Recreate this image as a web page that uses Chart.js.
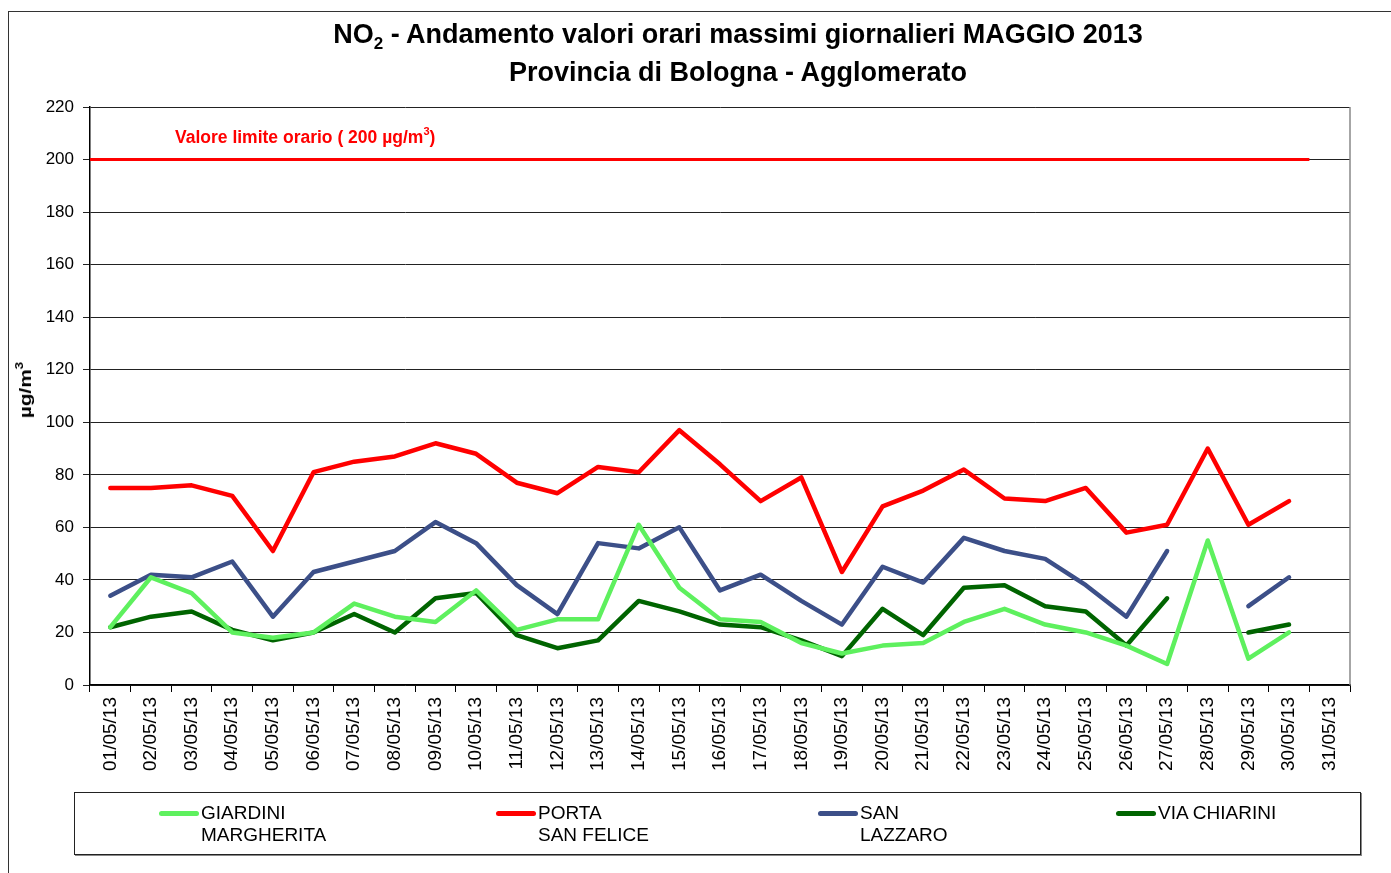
<!DOCTYPE html>
<html><head><meta charset="utf-8">
<script src="https://cdn.jsdelivr.net/npm/chart.js@4/dist/chart.umd.min.js"></script>
<style>
html,body{margin:0;padding:0;background:#fff;}
body{width:1391px;height:873px;position:relative;overflow:hidden;font-family:"Liberation Sans",Arial,sans-serif;color:#000;}
#frame{position:absolute;left:8px;top:11px;width:1420px;height:900px;border:1.5px solid #333;box-sizing:border-box;}
#c{position:absolute;left:0;top:0;}
.title{position:absolute;left:0;width:1476px;text-align:center;font-weight:bold;font-size:27px;line-height:30px;}
.title sub{font-size:17px;vertical-align:-6px;line-height:0;}
#annot{position:absolute;left:175px;top:127px;color:#f00;font-weight:bold;font-size:17.5px;white-space:nowrap;}
#annot sup{font-size:11px;vertical-align:8px;line-height:0;}
#ytitle sup{font-size:11px;vertical-align:8px;line-height:0;}
#ytitle{position:absolute;left:26px;top:390px;transform:translate(-50%,-50%) rotate(-90deg) scaleX(1.22);font-weight:bold;font-size:17px;white-space:nowrap;}
#legend{position:absolute;left:74px;top:792px;width:1287px;height:63px;border:1px solid #222;box-shadow:1px 1px 0 #888;box-sizing:border-box;}
.li{position:absolute;top:0;}
.sw{position:absolute;top:18px;width:40px;height:5px;border-radius:3px;}
.lt{position:absolute;top:9px;left:42px;font-size:19px;line-height:22px;white-space:nowrap;}
</style></head>
<body>
<div id="frame"></div>
<canvas id="c" width="1391" height="873"></canvas>
<div class="title" style="top:19px">NO<sub>2</sub> - Andamento valori orari massimi giornalieri MAGGIO 2013</div>
<div class="title" style="top:57px">Provincia di Bologna - Agglomerato</div>
<div id="annot">Valore limite orario ( 200 µg/m<sup>3</sup>)</div>
<div id="ytitle">µg/m<sup>3</sup></div>
<div id="legend"></div>
<script>
const categories = ["01/05/13","02/05/13","03/05/13","04/05/13","05/05/13","06/05/13","07/05/13","08/05/13","09/05/13","10/05/13","11/05/13","12/05/13","13/05/13","14/05/13","15/05/13","16/05/13","17/05/13","18/05/13","19/05/13","20/05/13","21/05/13","22/05/13","23/05/13","24/05/13","25/05/13","26/05/13","27/05/13","28/05/13","29/05/13","30/05/13","31/05/13"];
const giardiniMargherita = [22,41,35,20,18,20,31,26,24,36,21,25,25,61,37,25,24,16,12,15,16,24,29,23,20,15,8,55,10,20,null];
const portaSanFelice = [75,75,76,72,51,81,85,87,92,88,77,73,83,81,97,84,70,79,43,68,74,82,71,70,75,58,61,90,61,70,null];
const sanLazzaro = [34,42,41,47,26,43,47,51,62,54,38,27,54,52,60,36,42,32,23,45,39,56,51,48,38,26,51,null,30,41,null];
const viaChiarini = [22,26,28,21,17,20,27,20,33,35,19,14,17,32,28,23,22,17,11,29,19,37,38,30,28,15,33,null,20,23,null];
const seriesLabels = [["GIARDINI","MARGHERITA"],["PORTA","SAN FELICE"],["SAN","LAZZARO"],["VIA CHIARINI"]];
const seriesColors = ["#5ef05e","#ff0000","#3c4f88","#006400"];
const limitValue = 200;
const yTicks = [0,20,40,60,80,100,120,140,160,180,200,220];

const seriesData = [giardiniMargherita, portaSanFelice, sanLazzaro, viaChiarini];
const datasets = seriesData.map((d,i)=>({
  label: seriesLabels[i].join(" "),
  data: d,
  borderColor: seriesColors[i],
  backgroundColor: seriesColors[i],
  borderWidth: 4.5,
  pointRadius: 0,
  tension: 0,
  spanGaps: false,
  borderJoinStyle: 'round',
  borderCapStyle: 'round'
}));

const extras = {
  id: 'extras',
  beforeDatasetsDraw(chart){
    const {ctx, chartArea:a, scales:{x,y}} = chart;
    ctx.save();
    ctx.strokeStyle = '#888';
    ctx.lineWidth = 1.5;
    ctx.beginPath();
    ctx.moveTo(a.right, a.top); ctx.lineTo(a.right, a.bottom);
    ctx.stroke();
    const yl = y.getPixelForValue(limitValue);
    const xEnd = (x.getPixelForValue(categories.length-2) + x.getPixelForValue(categories.length-1)) / 2;
    ctx.strokeStyle = '#ff0000';
    ctx.lineWidth = 3;
    ctx.beginPath();
    ctx.moveTo(a.left, yl); ctx.lineTo(xEnd, yl);
    ctx.stroke();
    ctx.restore();
  }
};

const family = "'Liberation Sans', Arial, sans-serif";
new Chart(document.getElementById('c'), {
  type: 'line',
  data: {labels: categories, datasets},
  plugins: [extras],
  options: {
    responsive: false,
    animation: false,
    layout: {padding: {left:0, right:41, top:107, bottom:0}},
    plugins: {legend:{display:false}, title:{display:false}, tooltip:{enabled:false}},
    scales: {
      x: {
        type: 'category',
        offset: true,
        grid: {display:true, drawOnChartArea:false, drawTicks:true, tickLength:7, offset:true, color:'#000'},
        border: {display:true, color:'#000', width:1.5},
        ticks: {minRotation:90, maxRotation:90, autoSkip:false, padding:5, font:{family, size:19}, color:'#000'},
        afterFit(s){ s.height = 188; }
      },
      y: {
        min: 0, max: 220,
        afterBuildTicks(s){ s.ticks = yTicks.map(v=>({value:v})); },
        grid: {color:'#222', lineWidth:1, tickLength:7, drawTicks:true},
        border: {display:true, color:'#000', width:1.5},
        ticks: {padding:9, font:{family, size:17}, color:'#000'},
        afterFit(s){ s.width = 90; }
      }
    }
  }
});

const legendPos = [84, 421, 743, 1041];
const lg = document.getElementById('legend');
seriesLabels.forEach((lab,i)=>{
  const d = document.createElement('div');
  d.className = 'li';
  d.style.left = legendPos[i] + 'px';
  d.innerHTML = '<div class="sw" style="background:'+seriesColors[i]+'"></div><div class="lt">'+lab.join('<br>')+'</div>';
  lg.appendChild(d);
});
</script>
</body></html>
